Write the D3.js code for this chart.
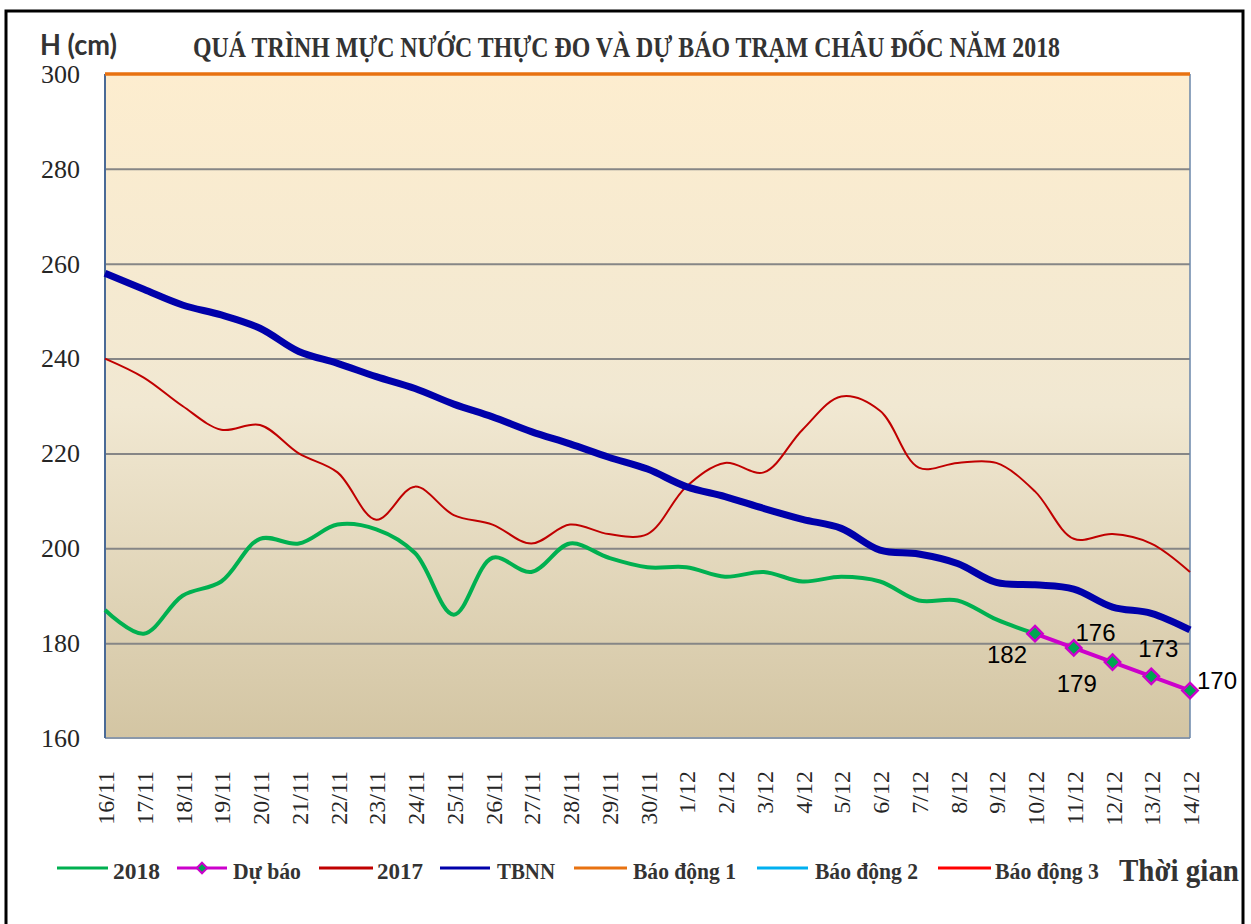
<!DOCTYPE html>
<html>
<head>
<meta charset="utf-8">
<script src="https://cdn.jsdelivr.net/npm/d3@7/dist/d3.min.js"></script>
<style>
  html, body { margin: 0; padding: 0; background: #fff; }
  svg { display: block; }
  .serif { font-family: "Liberation Serif", "Times New Roman", "DejaVu Serif", serif; }
</style>
</head>
<body>
<svg id="chart" width="1251" height="924"></svg>
<script>
// ---------------- DATA ----------------
const dates = ["16/11","17/11","18/11","19/11","20/11","21/11","22/11","23/11","24/11","25/11",
  "26/11","27/11","28/11","29/11","30/11","1/12","2/12","3/12","4/12","5/12",
  "6/12","7/12","8/12","9/12","10/12","11/12","12/12","13/12","14/12"];

const h2018 = [187, 182, 190, 193, 202, 201, 205, 204, 199, 186,
  198, 195, 201, 198, 196, 196, 194, 195, 193, 194,
  193, 189, 189, 185, 182, null, null, null, null];

const duBao = [null, null, null, null, null, null, null, null, null, null,
  null, null, null, null, null, null, null, null, null, null,
  null, null, null, null, 182, 179, 176, 173, 170];

const h2017 = [240, 236, 230, 225, 226, 220, 216, 206, 213, 207,
  205, 201, 205, 203, 203, 213, 218, 216, 225, 232,
  229, 217, 218, 218, 212, 202, 203, 201, 195];

const tbnn = [258, 254.6, 251.3, 249.2, 246.4, 241.5, 239, 236.2, 233.7, 230.4,
  227.7, 224.6, 222, 219.2, 216.7, 213, 210.9, 208.4, 206.1, 204.2,
  199.6, 198.8, 196.8, 192.8, 192.3, 191.4, 187.6, 186.3, 182.8];

const baoDong1 = 300;
const baoDong2 = 400;
const baoDong3 = 450;

const yTicks = [160, 180, 200, 220, 240, 260, 280, 300];

const seriesNames = ["2018", "Dự báo", "2017", "TBNN", "Báo động 1", "Báo động 2", "Báo động 3"];
const titleText = "QUÁ TRÌNH MỰC NƯỚC THỰC ĐO VÀ DỰ BÁO TRẠM CHÂU ĐỐC NĂM 2018";

// ---------------- LAYOUT ----------------
const plot = { left: 105, right: 1190, top: 74, bottom: 738 };
const colors = {
  "2018": "#00B050", "Dự báo": "#CC00CC", "2017": "#C00000", "TBNN": "#0000AA",
  "Báo động 1": "#E87211", "Báo động 2": "#00B0F0", "Báo động 3": "#FF0000"
};
const SERIF = "'Liberation Serif','Times New Roman','DejaVu Serif',serif";

const svg = d3.select("#chart");

// outer frame
svg.append("rect").attr("x", 6).attr("y", 11).attr("width", 1237).attr("height", 930)
  .attr("fill", "#fff").attr("stroke", "#000").attr("stroke-width", 3);

const x = d3.scalePoint().domain(dates).range([plot.left, plot.right]);
const y = d3.scaleLinear().domain([160, 300]).range([plot.bottom, plot.top]);

// background gradient
const defs = svg.append("defs");
const grad = defs.append("linearGradient").attr("id", "bg").attr("x1", 0).attr("y1", 0).attr("x2", 0).attr("y2", 1);
grad.append("stop").attr("offset", "0%").attr("stop-color", "#FDEDCF");
grad.append("stop").attr("offset", "50%").attr("stop-color", "#F1E8D2");
grad.append("stop").attr("offset", "100%").attr("stop-color", "#D3C5A3");
defs.append("clipPath").attr("id", "clip").append("rect")
  .attr("x", plot.left - 2).attr("y", plot.top - 3)
  .attr("width", plot.right - plot.left + 4).attr("height", plot.bottom - plot.top + 3);

svg.append("rect").attr("x", plot.left).attr("y", plot.top)
  .attr("width", plot.right - plot.left).attr("height", plot.bottom - plot.top)
  .attr("fill", "url(#bg)");

// gridlines
const grid = svg.append("g").attr("transform", `translate(${plot.left},0)`)
  .call(d3.axisLeft(y).tickValues(yTicks.filter(v => v > 160 && v < 300))
    .tickSize(-(plot.right - plot.left)).tickFormat(""));
grid.select(".domain").remove();
grid.selectAll(".tick line").attr("stroke", "#868686").attr("stroke-width", 2);

// plot borders
svg.append("line").attr("x1", plot.left).attr("x2", plot.right).attr("y1", plot.bottom).attr("y2", plot.bottom)
  .attr("stroke", "#8A98AA").attr("stroke-width", 2);
svg.append("line").attr("x1", plot.left).attr("x2", plot.left).attr("y1", plot.top).attr("y2", plot.bottom)
  .attr("stroke", "#4A6A96").attr("stroke-width", 2);
svg.append("line").attr("x1", plot.right).attr("x2", plot.right).attr("y1", plot.top).attr("y2", plot.bottom)
  .attr("stroke", "#6A86AA").attr("stroke-width", 1.5);

// y axis labels
const yAxis = svg.append("g").attr("transform", `translate(${plot.left},0)`)
  .call(d3.axisLeft(y).tickValues(yTicks).tickSize(0).tickPadding(25));
yAxis.select(".domain").remove();
yAxis.attr("font-family", null).attr("font-size", null);
yAxis.selectAll("text").attr("class", "serif")
  .style("font-family", SERIF).style("font-size", "26px").attr("fill", "#262626");

// x axis labels
const xAxis = svg.append("g").attr("transform", `translate(0,${plot.bottom})`)
  .call(d3.axisBottom(x).tickSize(0));
xAxis.select(".domain").remove();
xAxis.attr("font-family", null).attr("font-size", null);
xAxis.selectAll("text").attr("class", "serif")
  .style("font-family", SERIF).style("font-size", "24px").attr("fill", "#262626")
  .attr("text-anchor", "end")
  .attr("transform", "rotate(-90)")
  .attr("x", -33).attr("y", 0).attr("dy", "0.36em");

// lines
const g = svg.append("g").attr("clip-path", "url(#clip)");
const mk = (arr) => dates.map((d, i) => ({ d, v: arr[i] }));
const smooth = d3.line().defined(p => p.v != null).x(p => x(p.d)).y(p => y(p.v))
  .curve(d3.curveCatmullRom.alpha(0.5));
const straight = d3.line().defined(p => p.v != null).x(p => x(p.d)).y(p => y(p.v));

const flat = (val) => dates.map(d => ({ d, v: val }));
g.append("path").attr("d", straight(flat(baoDong3))).attr("fill", "none").attr("stroke", colors["Báo động 3"]).attr("stroke-width", 3);
g.append("path").attr("d", straight(flat(baoDong2))).attr("fill", "none").attr("stroke", colors["Báo động 2"]).attr("stroke-width", 3);
g.append("path").attr("d", smooth(mk(h2017))).attr("fill", "none").attr("stroke", colors["2017"]).attr("stroke-width", 2);
g.append("path").attr("d", smooth(mk(tbnn))).attr("fill", "none").attr("stroke", colors["TBNN"]).attr("stroke-width", 7).attr("stroke-linejoin", "round");
g.append("path").attr("d", smooth(mk(h2018))).attr("fill", "none").attr("stroke", colors["2018"]).attr("stroke-width", 4);
g.append("path").attr("d", straight(flat(baoDong1))).attr("fill", "none").attr("stroke", colors["Báo động 1"]).attr("stroke-width", 3.5);
svg.append("path").attr("d", straight(mk(duBao))).attr("fill", "none").attr("stroke", colors["Dự báo"]).attr("stroke-width", 4);

// forecast markers
const diamond = d3.symbol().type(d3.symbolDiamond2).size(150);
const fc = mk(duBao).filter(p => p.v != null);
svg.selectAll(".mk").data(fc).join("path")
  .attr("transform", p => `translate(${x(p.d)},${y(p.v)})`)
  .attr("d", diamond).attr("fill", "#00A651").attr("stroke", "#CC00CC").attr("stroke-width", 2.5);

// forecast labels (offsets in pixels from their point)
const labelOffsets = [[-28, 21], [3, 35], [-17, -30], [7, -28], [27, -10]];
svg.selectAll(".lbl").data(fc).join("text")
  .attr("x", (p, i) => x(p.d) + labelOffsets[i][0])
  .attr("y", (p, i) => y(p.v) + labelOffsets[i][1])
  .attr("text-anchor", "middle").attr("dy", "0.36em")
  .style("font-family", "'Liberation Sans',Arial,sans-serif").style("font-size", "24px")
  .attr("fill", "#000").text(p => p.v);

// title and axis titles
svg.append("text").attr("x", 193).attr("y", 57).attr("textLength", 867).attr("lengthAdjust", "spacingAndGlyphs")
  .style("font-family", SERIF).attr("font-weight", "bold")
  .style("font-size", "29px").attr("fill", "#333").text(titleText);
svg.append("text").attr("x", 40).attr("y", 55).attr("textLength", 77).attr("lengthAdjust", "spacingAndGlyphs")
  .style("font-family", "Lato,'Open Sans',sans-serif").attr("font-weight", "bold")
  .style("font-size", "29px").attr("fill", "#333").text("H (cm)");

// legend
const legend = [
  { name: "2018", x1: 57, x2: 108, tx: 113, tw: 47 },
  { name: "Dự báo", x1: 177, x2: 227, tx: 233, tw: 68, marker: true },
  { name: "2017", x1: 319, x2: 373, tx: 377, tw: 46 },
  { name: "TBNN", x1: 440, x2: 490, tx: 497, tw: 58 },
  { name: "Báo động 1", x1: 574, x2: 627, tx: 633, tw: 103 },
  { name: "Báo động 2", x1: 757, x2: 808, tx: 815, tw: 103 },
  { name: "Báo động 3", x1: 938, x2: 991, tx: 995, tw: 104 }
];
const lg = svg.append("g");
legend.forEach(l => {
  lg.append("line").attr("x1", l.x1).attr("x2", l.x2).attr("y1", 868).attr("y2", 868)
    .attr("stroke", colors[l.name]).attr("stroke-width", 3);
  if (l.marker) {
    lg.append("path").attr("transform", `translate(${(l.x1 + l.x2) / 2},868)`)
      .attr("d", d3.symbol().type(d3.symbolDiamond2).size(70))
      .attr("fill", "#00A651").attr("stroke", "#CC00CC").attr("stroke-width", 2);
  }
  lg.append("text").attr("x", l.tx).attr("y", 879).attr("textLength", l.tw).attr("lengthAdjust", "spacingAndGlyphs")
    .style("font-family", SERIF).attr("font-weight", "bold")
    .style("font-size", "24px").attr("fill", "#333").text(l.name);
});
svg.append("text").attr("x", 1119).attr("y", 881).attr("textLength", 120).attr("lengthAdjust", "spacingAndGlyphs")
  .style("font-family", SERIF).attr("font-weight", "bold")
  .style("font-size", "32px").attr("fill", "#333").text("Thời gian");
</script>
</body>
</html>
